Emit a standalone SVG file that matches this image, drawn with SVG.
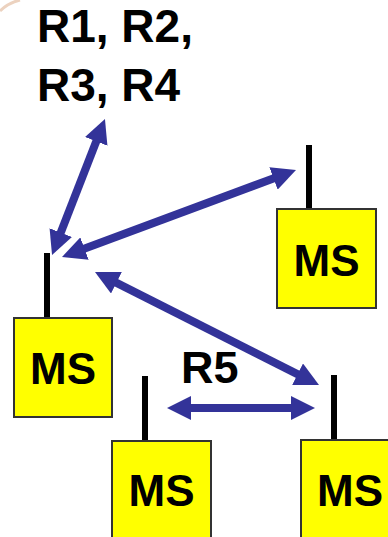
<svg xmlns="http://www.w3.org/2000/svg" width="388" height="537" viewBox="0 0 388 537">
<style>
.box{fill:#ffff00;stroke:#333333;stroke-width:2}
.ant{stroke:#000;stroke-width:6}
.lbl{font-family:"Liberation Sans",Arial,sans-serif;font-weight:bold;fill:#000}
.ms{font-size:44px;text-anchor:middle}
.arr{stroke:#333399;stroke-width:8;fill:none;marker-start:url(#ah);marker-end:url(#ah)}
</style>
<defs>
<marker id="ah" markerUnits="userSpaceOnUse" markerWidth="24" markerHeight="24" viewBox="0 0 24 24" refX="12" refY="12" orient="auto-start-reverse">
<path d="M0,0 L24,12 L0,24 Z" fill="#333399"/>
</marker>
</defs>
<rect width="388" height="537" fill="#fff"/>
<path d="M0,11 Q8,3 20,0" stroke="#ecd2bf" stroke-width="3" fill="none"/>
<g id="label-r1r4">
<text class="lbl" x="37" y="42" font-size="46">R1, R2,</text>
<text class="lbl" x="37" y="101" font-size="46">R3, R4</text>
</g>
<g id="label-r5">
<text class="lbl" x="181" y="383" font-size="45">R5</text>
</g>
<g id="ms-left">
<line class="ant" x1="47" y1="253" x2="47" y2="318"/>
<rect class="box" x="14" y="318" width="98" height="99"/>
<text class="lbl ms" x="63" y="384">MS</text>
</g>
<g id="ms-topright">
<line class="ant" x1="309" y1="145" x2="309" y2="209"/>
<rect class="box" x="277" y="209" width="99" height="99"/>
<text class="lbl ms" x="326.5" y="276">MS</text>
</g>
<g id="ms-bottommid">
<line class="ant" x1="145" y1="376" x2="145" y2="441"/>
<rect class="box" x="112" y="441" width="99" height="100"/>
<text class="lbl ms" x="161.5" y="506">MS</text>
</g>
<g id="ms-bottomright">
<line class="ant" x1="334" y1="375" x2="334" y2="440"/>
<rect class="box" x="301" y="440" width="99" height="100"/>
<text class="lbl ms" x="350" y="506">MS</text>
</g>
<g id="connectors">
<line class="arr" x1="100.6" y1="130.2" x2="56.4" y2="243.8"/>
<line class="arr" x1="73.25" y1="252.8" x2="284.75" y2="174.2"/>
<line class="arr" x1="105.7" y1="277.4" x2="308.3" y2="379.6"/>
<line class="arr" x1="179" y1="408" x2="303" y2="408"/>
</g>
</svg>
